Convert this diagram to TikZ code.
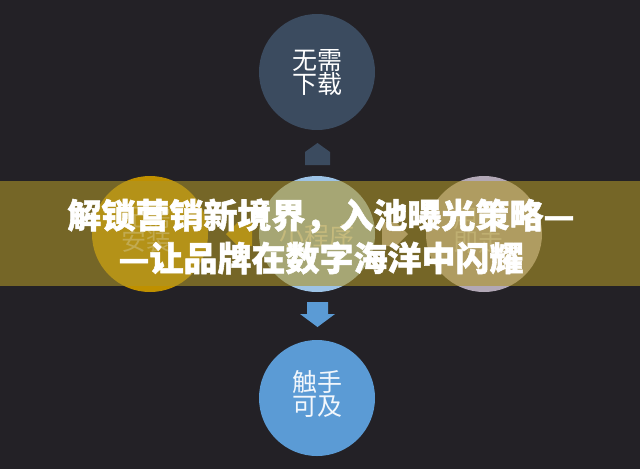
\documentclass[tikz,border=0pt]{standalone}
\usepackage{fontspec}
\newfontfamily\cjk{Noto Sans CJK SC}[BoldFeatures={FakeBold=1.5}]
\definecolor{bgc}{RGB}{35,33,38}
\definecolor{slate}{RGB}{59,75,95}
\definecolor{bluec}{RGB}{91,155,213}
\definecolor{lightb}{RGB}{157,195,230}
\definecolor{goldc}{RGB}{191,144,0}
\definecolor{greyc}{RGB}{178,168,182}
\definecolor{bannerc}{RGB}{173,148,41}
\tikzset{
  circ/.style={circle, minimum size=116pt, inner sep=0pt},
  ctext/.style={font=\cjk\fontsize{25}{24}\selectfont, align=center, text=white},
  ttl/.style={font=\cjk\bfseries\fontsize{34}{40}\selectfont, text=white, inner sep=0pt}
}
\begin{document}
\begin{tikzpicture}[x=1pt,y=-1pt]
\fill[bgc] (0,0) rectangle (640,469);
\useasboundingbox (0,0) rectangle (640,469);
% circles
\node[circ, fill=slate] (top) at (317,72) {};
\node[ctext] (toptxt) at (317,73) {无需\\下载};
\node[circ, fill=bluec] (bot) at (317,398) {};
\node[ctext, text=white!92!bluec] (bottxt) at (317,394) {触手\\可及};
\node[circ, fill=lightb] (mid) at (317,234) {};
\node[ctext, text=white!80!lightb] (midtxt) at (317,236) {小程序};
\node[circ, fill=goldc] (left) at (150,234) {};
\node[ctext, text=white!55!goldc] (lefttxt) at (146,230) {无需\\安装};
\node[circ, fill=greyc] (right) at (484,234) {};
\node[ctext, text=white!55!greyc] (righttxt) at (478,230) {用完\\即走};
% arrows
\fill[slate] (305,165) -- (305,152) -- (317.5,143) -- (330,152) -- (330,165) -- cycle;
\fill[bluec] (307,302) -- (328,302) -- (328,314) -- (335,314) -- (317.5,327) -- (300,314) -- (307,314) -- cycle;
\fill[goldc] (252,222) -- (238,222) -- (226,234) -- (238,246) -- (252,246) -- cycle;
\fill[greyc] (382,222) -- (396,222) -- (408,234) -- (396,246) -- (382,246) -- cycle;
% banner
\fill[bannerc, opacity=0.6] (0,181) rectangle (640,286);
\node[ttl] (t1) at (321,216) {解锁营销新境界，入池曝光策略—};
\node[ttl] (t2) at (321,258) {—让品牌在数字海洋中闪耀};
\end{tikzpicture}
\end{document}
